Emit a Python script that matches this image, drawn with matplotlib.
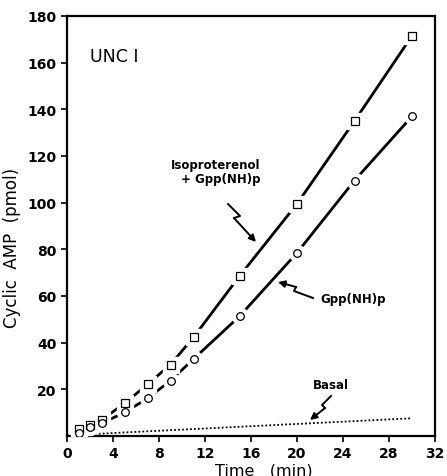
import numpy as np
import matplotlib.pyplot as plt

# Данные
t = [1, 2, 3, 5, 7, 9, 11, 15, 20, 25, 30]
iso_gpp = [3.0, 4.8, 6.8, 14.0, 22.1, 30.6, 42.3, 68.5, 99.5, 135.0, 171.5]
gpp = [1.5, 3.7, 5.4, 10.1, 16.1, 23.7, 33.0, 51.3, 78.5, 109.5, 137.0]
basal_t = [0, 30]
basal = [0.3, 7.6]

xticks = [0, 4, 8, 12, 16, 20, 24, 28, 32]
yticks = [20, 40, 60, 80, 100, 120, 140, 160, 180]

W, H = 447, 477
fig = plt.figure(figsize=(W / 100, H / 100), dpi=100)
ax = fig.add_axes([67 / W, 1 - 437 / H, 368 / W, 420 / H])

# кривые с разрывами у маркеров
for y, m in [(iso_gpp, "s"), (gpp, "o")]:
    ax.plot(t, y, color="black", lw=2.0, solid_capstyle="butt", zorder=2)
    ax.plot(t, y, ls="none", marker=m, ms=11.5, mfc="white", mec="white", zorder=3)
    ax.plot(t, y, ls="none", marker=m, ms=5.5, mfc="white", mec="black", mew=0.9, zorder=4)

ax.plot(basal_t, basal, color="black", ls=(0, (1, 1.2)), lw=1.3, zorder=2)

ax.set_xlim(0, 32)
ax.set_ylim(0, 180)
ax.set_xticks(xticks)
ax.set_yticks(yticks)
ax.tick_params(direction="out", length=4, width=1.2, labelsize=10)
for lab in ax.get_xticklabels() + ax.get_yticklabels():
    lab.set_fontweight("bold")
for s in ax.spines.values():
    s.set_linewidth(1.6)

ax.set_xlabel("Time   (min)", fontsize=11.5)
ax.xaxis.set_label_coords(0.535, -0.062)
ax.set_ylabel("Cyclic  AMP  (pmol)", fontsize=12)
ax.yaxis.set_label_coords(-0.125, 0.45)

ax.text(2.0, 163, "UNC I", fontsize=12.5, va="center", ha="left")


def px(x, y):
    # пиксели рисунка -> доли осей
    return ((x - 67) / 368, (437 - y) / 420)


def zigzag(pts):
    xs, ys = zip(*[px(*p) for p in pts[:-1]])
    ax.plot(xs, ys, color="black", lw=1.4, transform=ax.transAxes, clip_on=False)
    ax.annotate("", xy=px(*pts[-1]), xytext=px(*pts[-2]),
                xycoords="axes fraction", textcoords="axes fraction",
                arrowprops=dict(arrowstyle="-|>", color="black", lw=1.4,
                                mutation_scale=10, shrinkA=0, shrinkB=0))


ax.text(*px(216, 166), "Isoproterenol", transform=ax.transAxes, fontsize=8.5,
        fontweight="bold", ha="center", va="center")
ax.text(*px(221, 180), "+ Gpp(NH)p", transform=ax.transAxes, fontsize=8.5,
        fontweight="bold", ha="center", va="center")
zigzag([(228, 205), (240, 217), (234, 219), (256, 243)])

ax.text(*px(320, 300), "Gpp(NH)p", transform=ax.transAxes, fontsize=8.5,
        fontweight="bold", ha="left", va="center")
zigzag([(313, 299), (294, 292), (296, 288), (278, 283)])

ax.text(*px(331, 386), "Basal", transform=ax.transAxes, fontsize=8.5,
        fontweight="bold", ha="center", va="center")
zigzag([(331, 397), (322, 406), (325, 409), (310, 421)])

fig.savefig("out.png", dpi=100)
